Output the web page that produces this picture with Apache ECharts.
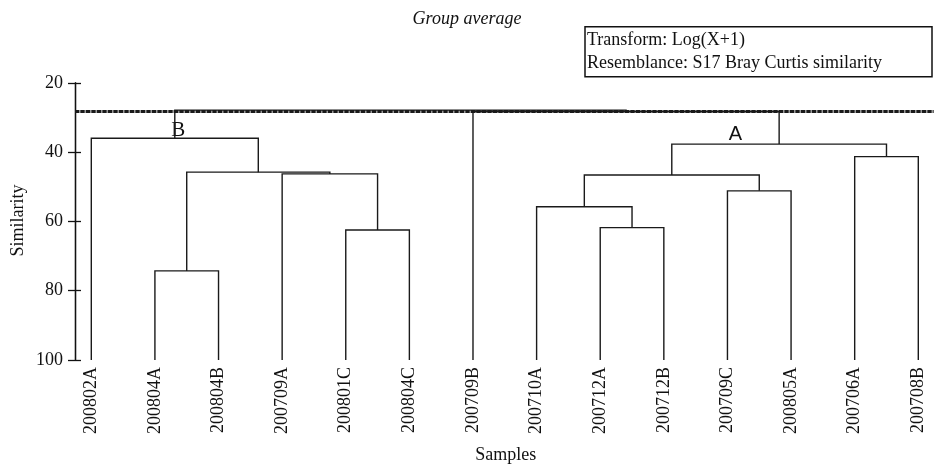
<!DOCTYPE html>
<html><head><meta charset="utf-8">
<script src="https://cdn.jsdelivr.net/npm/echarts@6/dist/echarts.min.js"></script>
<style>html,body{margin:0;padding:0;background:#fff}#c{width:934px;height:466px}</style>
</head><body><div id="c"></div>
<script>
// ---- data ----
const samples = ['200802A','200804A','200804B','200709A','200801C','200804C','200709B','200710A','200712A','200712B','200709C','200805A','200706A','200708B'];
// merges: leaf indices 0..13, new nodes numbered from 14 in order
const mergeLeft  = [1, 4, 3, 14, 0, 8, 7, 10, 20, 12, 22, 6, 18];
const mergeRight = [2, 5, 15, 16, 17, 9, 19, 11, 21, 13, 23, 24, 25];
const mergeSimilarity = [74.3, 62.5, 46.3, 45.8, 36.0, 61.8, 55.8, 51.2, 46.6, 41.3, 37.7, 28.3, 27.9];
const cutSimilarity = 28.35;
const yTicks = [20, 40, 60, 80, 100];
const titleText = 'Group average';
const infoLines = ['Transform: Log(X+1)', 'Resemblance: S17 Bray Curtis similarity'];
const groupLabels = ['B', 'A'];

// ---- build dendrogram segments ----
const nodeX = samples.map((_, i) => i);
const nodeY = samples.map(() => 100);
const segs = [];
for (let k = 0; k < mergeLeft.length; k++) {
  const a = mergeLeft[k], b = mergeRight[k], h = mergeSimilarity[k];
  segs.push({coords: [[nodeX[a], nodeY[a]], [nodeX[a], h], [nodeX[b], h], [nodeX[b], nodeY[b]]]});
  nodeX.push((nodeX[a] + nodeX[b]) / 2);
  nodeY.push(h);
}

const serif = '"Liberation Serif", "Times New Roman", serif';
const ink = '#111';
const chart = echarts.init(document.getElementById('c'));
const yBase = {
  type: 'value', inverse: true, min: yTicks[0], max: yTicks[yTicks.length - 1], interval: 20,
  position: 'left', offset: 16.3, splitLine: {show: false},
  axisLine: {show: true, onZero: false, lineStyle: {color: ink, width: 1.3}}
};
const cutCoords = [[-0.256, cutSimilarity], [13.24, cutSimilarity]];
chart.setOption({
  animation: false,
  backgroundColor: '#fff',
  title: {text: titleText, left: 'center', top: 5,
    textStyle: {fontFamily: serif, fontStyle: 'italic', fontWeight: 'normal', fontSize: 18, color: ink}},
  grid: {left: 91.3, right: 15.7, top: 82.8, bottom: 106.1, containLabel: false, outerBoundsMode: 'none'},
  xAxis: {
    type: 'value', min: 0, max: samples.length - 1, interval: 1,
    axisLine: {show: false, onZero: false}, axisTick: {show: false}, splitLine: {show: false},
    axisLabel: {rotate: 90, margin: 7, fontFamily: serif, fontSize: 18, color: ink,
      formatter: v => samples[Math.round(v)] || ''}
  },
  yAxis: [
    Object.assign({}, yBase, {
      axisTick: {show: true, inside: false, length: 7, lineStyle: {color: ink, width: 1.3}},
      axisLabel: {show: true, margin: 12, fontFamily: serif, fontSize: 18, color: ink}
    }),
    Object.assign({}, yBase, {
      axisTick: {show: true, inside: true, length: 6, lineStyle: {color: ink, width: 1.3}},
      axisLabel: {show: false}
    })
  ],
  series: [
    {
      type: 'lines', coordinateSystem: 'cartesian2d', polyline: true, clip: false,
      xAxisIndex: 0, yAxisIndex: 0, z: 3,
      lineStyle: {color: '#1a1a1a', width: 1.4, opacity: 1},
      data: segs
    },
    {
      type: 'lines', coordinateSystem: 'cartesian2d', polyline: false, clip: false,
      xAxisIndex: 0, yAxisIndex: 0, z: 1,
      lineStyle: {color: '#9a9a9a', width: 3, opacity: 1},
      data: [{coords: cutCoords}]
    },
    {
      type: 'lines', coordinateSystem: 'cartesian2d', polyline: false, clip: false,
      xAxisIndex: 0, yAxisIndex: 0, z: 2,
      lineStyle: {color: '#1a1a1a', width: 3, type: [4, 1.5], opacity: 1},
      data: [{coords: cutCoords}]
    }
  ],
  graphic: [
    {type: 'rect', shape: {x: 585, y: 26.7, width: 347, height: 50}, style: {fill: 'none', stroke: ink, lineWidth: 1.5}},
    {type: 'text', x: 587, y: 40.5, style: {text: infoLines[0], font: '18px ' + serif, fill: ink, textVerticalAlign: 'middle'}},
    {type: 'text', x: 587, y: 63.5, style: {text: infoLines[1], font: '18px ' + serif, fill: ink, textVerticalAlign: 'middle'}},
    {type: 'text', x: 18.3, y: 220.5, rotation: Math.PI / 2,
      style: {text: 'Similarity', font: '18px ' + serif, fill: ink, textAlign: 'center', textVerticalAlign: 'middle'}},
    {type: 'text', x: 505.8, y: 455, style: {text: 'Samples', font: '18px ' + serif, fill: ink, textAlign: 'center', textVerticalAlign: 'middle'}},
    {type: 'text', x: 178.3, y: 130, style: {text: groupLabels[0], font: '21px ' + serif, fill: ink, textAlign: 'center', textVerticalAlign: 'middle'}},
    {type: 'text', x: 735.5, y: 134, style: {text: groupLabels[1], font: '20px "Liberation Sans", Arial, sans-serif', fill: ink, textAlign: 'center', textVerticalAlign: 'middle'}}
  ]
});
</script></body></html>
